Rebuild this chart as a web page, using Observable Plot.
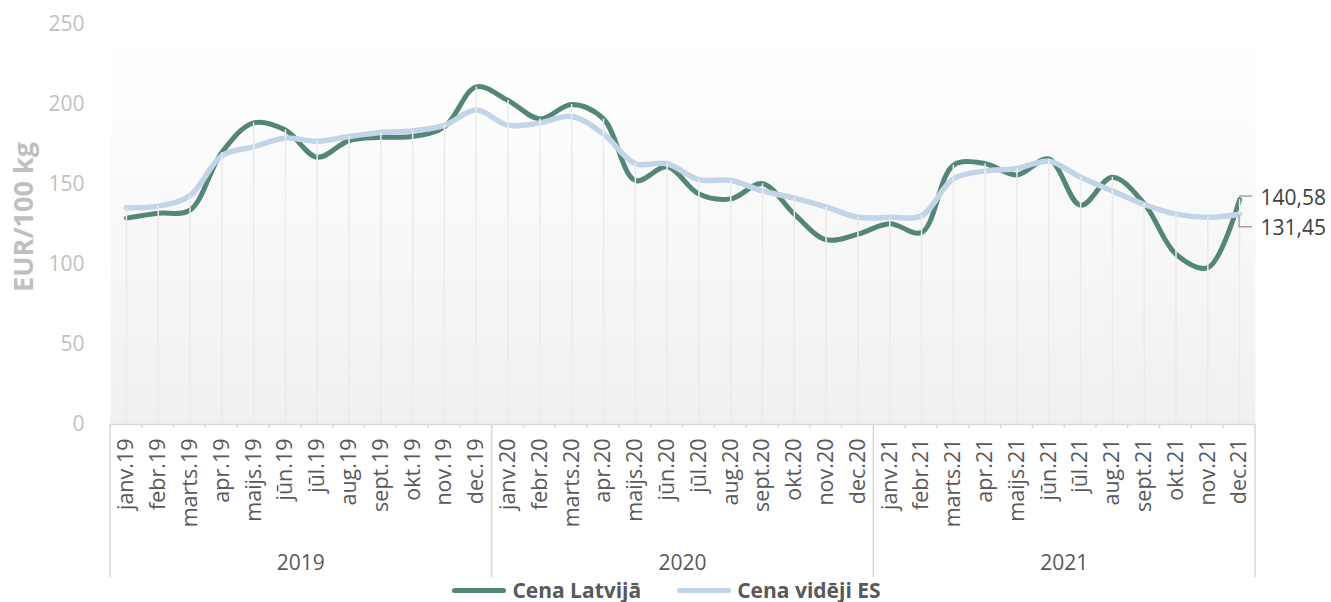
<!DOCTYPE html>
<html>
<head>
<meta charset="utf-8">
<script src="https://cdn.jsdelivr.net/npm/d3@7"></script>
<script src="https://cdn.jsdelivr.net/npm/@observablehq/plot@0.6"></script>
<style>
  html, body { margin: 0; padding: 0; background: #fff; }
  body { width: 1331px; height: 602px; overflow: hidden; font-family: "Open Sans", sans-serif; }
  #legend { display: flex; justify-content: center; align-items: center; height: 24px; margin-left: 2px; }
  .item { display: flex; align-items: center; margin: 0 18px; }
  .sw { width: 54px; height: 5px; border-radius: 3px; margin-right: 6px; }
  .lt { font-weight: 700; font-size: 21px; color: #595959; line-height: 24px; }
</style>
</head>
<body>
<div id="chart"></div>
<div id="legend"></div>
<script>
// ---- data ----
const years = ["2019", "2020", "2021"];
const monthNames = ["janv.", "febr.", "marts.", "apr.", "maijs.", "jūn.", "jūl.", "aug.", "sept.", "okt.", "nov.", "dec."];
const latvia = [
  129, 132, 134, 170, 188.5, 184, 167, 177.5, 179.5, 180, 186, 211,
  202.5, 191, 200, 191, 152.5, 161, 144, 141, 150.5, 131.5, 115.5, 119,
  125.5, 120, 162, 163, 156, 166, 137, 154.5, 138, 106.5, 98, 140.58
];
const eu = [
  135.5, 136.5, 143, 168, 173.5, 179, 177, 180, 182.5, 183.5, 187, 196.5,
  187, 188.5, 192.5, 181.5, 163, 163, 153, 152.5, 146, 141.5, 136, 129.5,
  129.5, 130.5, 153.5, 158.5, 160, 164.5, 154.5, 146, 137.5, 131.5, 129.5, 131.45
];
const yTicks = [0, 50, 100, 150, 200, 250];
const seriesNames = ["Cena Latvijā", "Cena vidēji ES"];
const seriesColors = ["#548677", "#c2d5e8"];
const endLabels = ["140,58", "131,45"];
const yTitle = "EUR/100 kg";

// ---- build ----
const cats = [];
years.forEach(y => monthNames.forEach(m => cats.push(m + y.slice(2))));
const data = cats.map((c, i) => ({ c, lv: latvia[i], eu: eu[i] }));
const last = data[data.length - 1];
const FONT = "Open Sans";

const plot = Plot.plot({
  width: 1331,
  height: 578,
  marginLeft: 110,
  marginRight: 76,
  marginTop: 24,
  marginBottom: 154,
  style: { fontFamily: FONT, background: "transparent", overflow: "visible" },
  x: { type: "point", domain: cats, padding: 0.5, round: false, axis: null },
  y: { domain: [0, 250], axis: null },
  marks: [
    Plot.frame({ fill: "url(#bgGrad)", stroke: null }),
    Plot.lineY(data, { x: "c", y: "lv", curve: "catmull-rom", stroke: seriesColors[0], strokeWidth: 5, strokeLinejoin: "round" }),
    Plot.lineY(data, { x: "c", y: "eu", curve: "catmull-rom", stroke: seriesColors[1], strokeWidth: 5.5, strokeLinejoin: "round" }),
    Plot.ruleX(data, { x: "c", y1: 0, y2: d => Math.max(d.lv, d.eu), stroke: "#ebebeb", strokeWidth: 1.5 }),
    Plot.ruleY([0], { stroke: "#d9d9d9", strokeWidth: 1.5 }),
    Plot.text(yTicks, { y: d => d, text: d => String(d), frameAnchor: "left", dx: -26, textAnchor: "end", fill: "#bfbfbf", fontSize: 21 }),
    Plot.axisX({ tickRotate: -90, tickSize: 0, tickPadding: 14, fontSize: 21.5, fill: "#595959", label: null }),
    Plot.text([last], { x: "c", y: "lv", text: () => endLabels[0], dx: 21, dy: -1, textAnchor: "start", fill: "#404040", fontSize: 21 }),
    Plot.text([last], { x: "c", y: "eu", text: () => endLabels[1], dx: 21, dy: 14, textAnchor: "start", fill: "#404040", fontSize: 21 })
  ]
});

document.getElementById("chart").appendChild(plot);

// decorations using the plot's own scales
const xs = plot.scale("x"), ys = plot.scale("y");
const svg = d3.select(plot);
const defs = svg.insert("defs", ":first-child");
const grad = defs.append("linearGradient").attr("id", "bgGrad").attr("x1", 0).attr("y1", 0).attr("x2", 0).attr("y2", 1);
grad.append("stop").attr("offset", "0%").attr("stop-color", "#ffffff");
grad.append("stop").attr("offset", "20%").attr("stop-color", "#fdfdfd");
grad.append("stop").attr("offset", "100%").attr("stop-color", "#f0f0f0");

const step = xs.step;
const y0 = ys.apply(0);
const g = svg.append("g").attr("stroke", "#d9d9d9").attr("stroke-width", 1.5).attr("fill", "none");
// month boundary ticks
cats.forEach((c, i) => {
  const bx = xs.apply(c) - step / 2;
  g.append("line").attr("x1", bx).attr("x2", bx).attr("y1", y0).attr("y2", y0 + 4);
});
// year separators
for (let i = 0; i <= years.length; i++) {
  const bx = i < years.length ? xs.apply(cats[i * 12]) - step / 2 : xs.apply(cats[cats.length - 1]) + step / 2;
  g.append("line").attr("x1", bx).attr("x2", bx).attr("y1", y0).attr("y2", y0 + 153);
}
// year labels
years.forEach((yr, i) => {
  const cx = (xs.apply(cats[i * 12]) + xs.apply(cats[i * 12 + 11])) / 2;
  svg.append("text").attr("x", cx).attr("y", y0 + 139).attr("dy", "0.35em")
    .attr("text-anchor", "middle").attr("fill", "#595959")
    .style("font-family", FONT).style("font-size", "21px").text(yr);
});
// y title
svg.append("text").attr("transform", `translate(24,${(ys.apply(0) + ys.apply(250)) / 2 - 7}) rotate(-90)`)
  .attr("text-anchor", "middle").attr("dy", "0.35em").attr("fill", "#bfbfbf")
  .style("font-family", FONT).style("font-size", "27px").style("font-weight", "700").text(yTitle);
// leader lines for end labels
const lx = xs.apply(last.c);
const lg = svg.append("g").attr("stroke", "#a6a6a6").attr("stroke-width", 1.5).attr("fill", "none");
lg.append("path").attr("d", `M${lx},${ys.apply(last.lv) - 3}H${lx + 13}`);
lg.append("path").attr("d", `M${lx},${ys.apply(last.eu) + 1}V${ys.apply(last.eu) + 13}H${lx + 13}`);

// legend
const leg = d3.select("#legend");
seriesNames.forEach((n, i) => {
  const it = leg.append("div").attr("class", "item");
  it.append("div").attr("class", "sw").style("background", seriesColors[i]);
  it.append("div").attr("class", "lt").text(n);
});
</script>
</body>
</html>
